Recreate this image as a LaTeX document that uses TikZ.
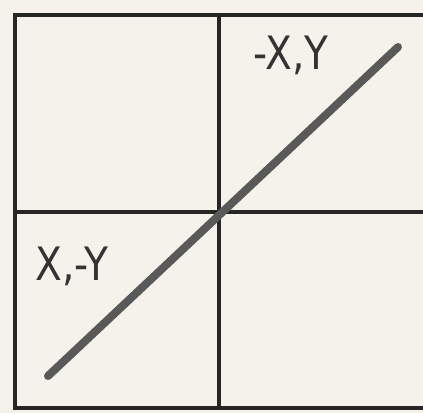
\documentclass[tikz,border=0pt]{standalone}
\usepackage{fontspec}
\setmainfont{DejaVu Sans}
\usetikzlibrary{calc}
\definecolor{paper}{RGB}{244,242,234}

\begin{document}
\begin{tikzpicture}[
  x=1pt, y=-1pt,
  frame/.style={draw=black!85, line width=3.5pt},
  diag/.style={draw=black!65, line width=8pt, line cap=round},
  lab/.style={font=\fontsize{46}{46}\selectfont, text=black!80, inner sep=0pt,
              xscale=0.85}
]

% ---------------- page ----------------
\fill[paper] (0,0) rectangle (423,413);
\useasboundingbox (0,0) rectangle (423,413);

% ---------------- grid ----------------
\coordinate (tl) at (15,15);
\coordinate (tr) at (425,15);
\coordinate (bl) at (15,408);
\coordinate (br) at (425,408);
\coordinate (mt) at (219,15);
\coordinate (mb) at (219,408);
\coordinate (ml) at (15,212);
\coordinate (mr) at (425,212);

\draw[frame] (tr) -- (tl) -- (bl) -- (br);
\draw[frame] (mt) -- (mb);
\draw[frame] (ml) -- (mr);

% ---------------- the line ----------------
\coordinate (lo) at (48,376);
\coordinate (hi) at (398,47);
\draw[diag] (lo) -- (hi);

% ---------------- labels ----------------
\node[lab] (upper) at (291,55) {-X,Y};
\node[lab] (lower) at (72,266) {X,-Y};

\end{tikzpicture}
\end{document}
